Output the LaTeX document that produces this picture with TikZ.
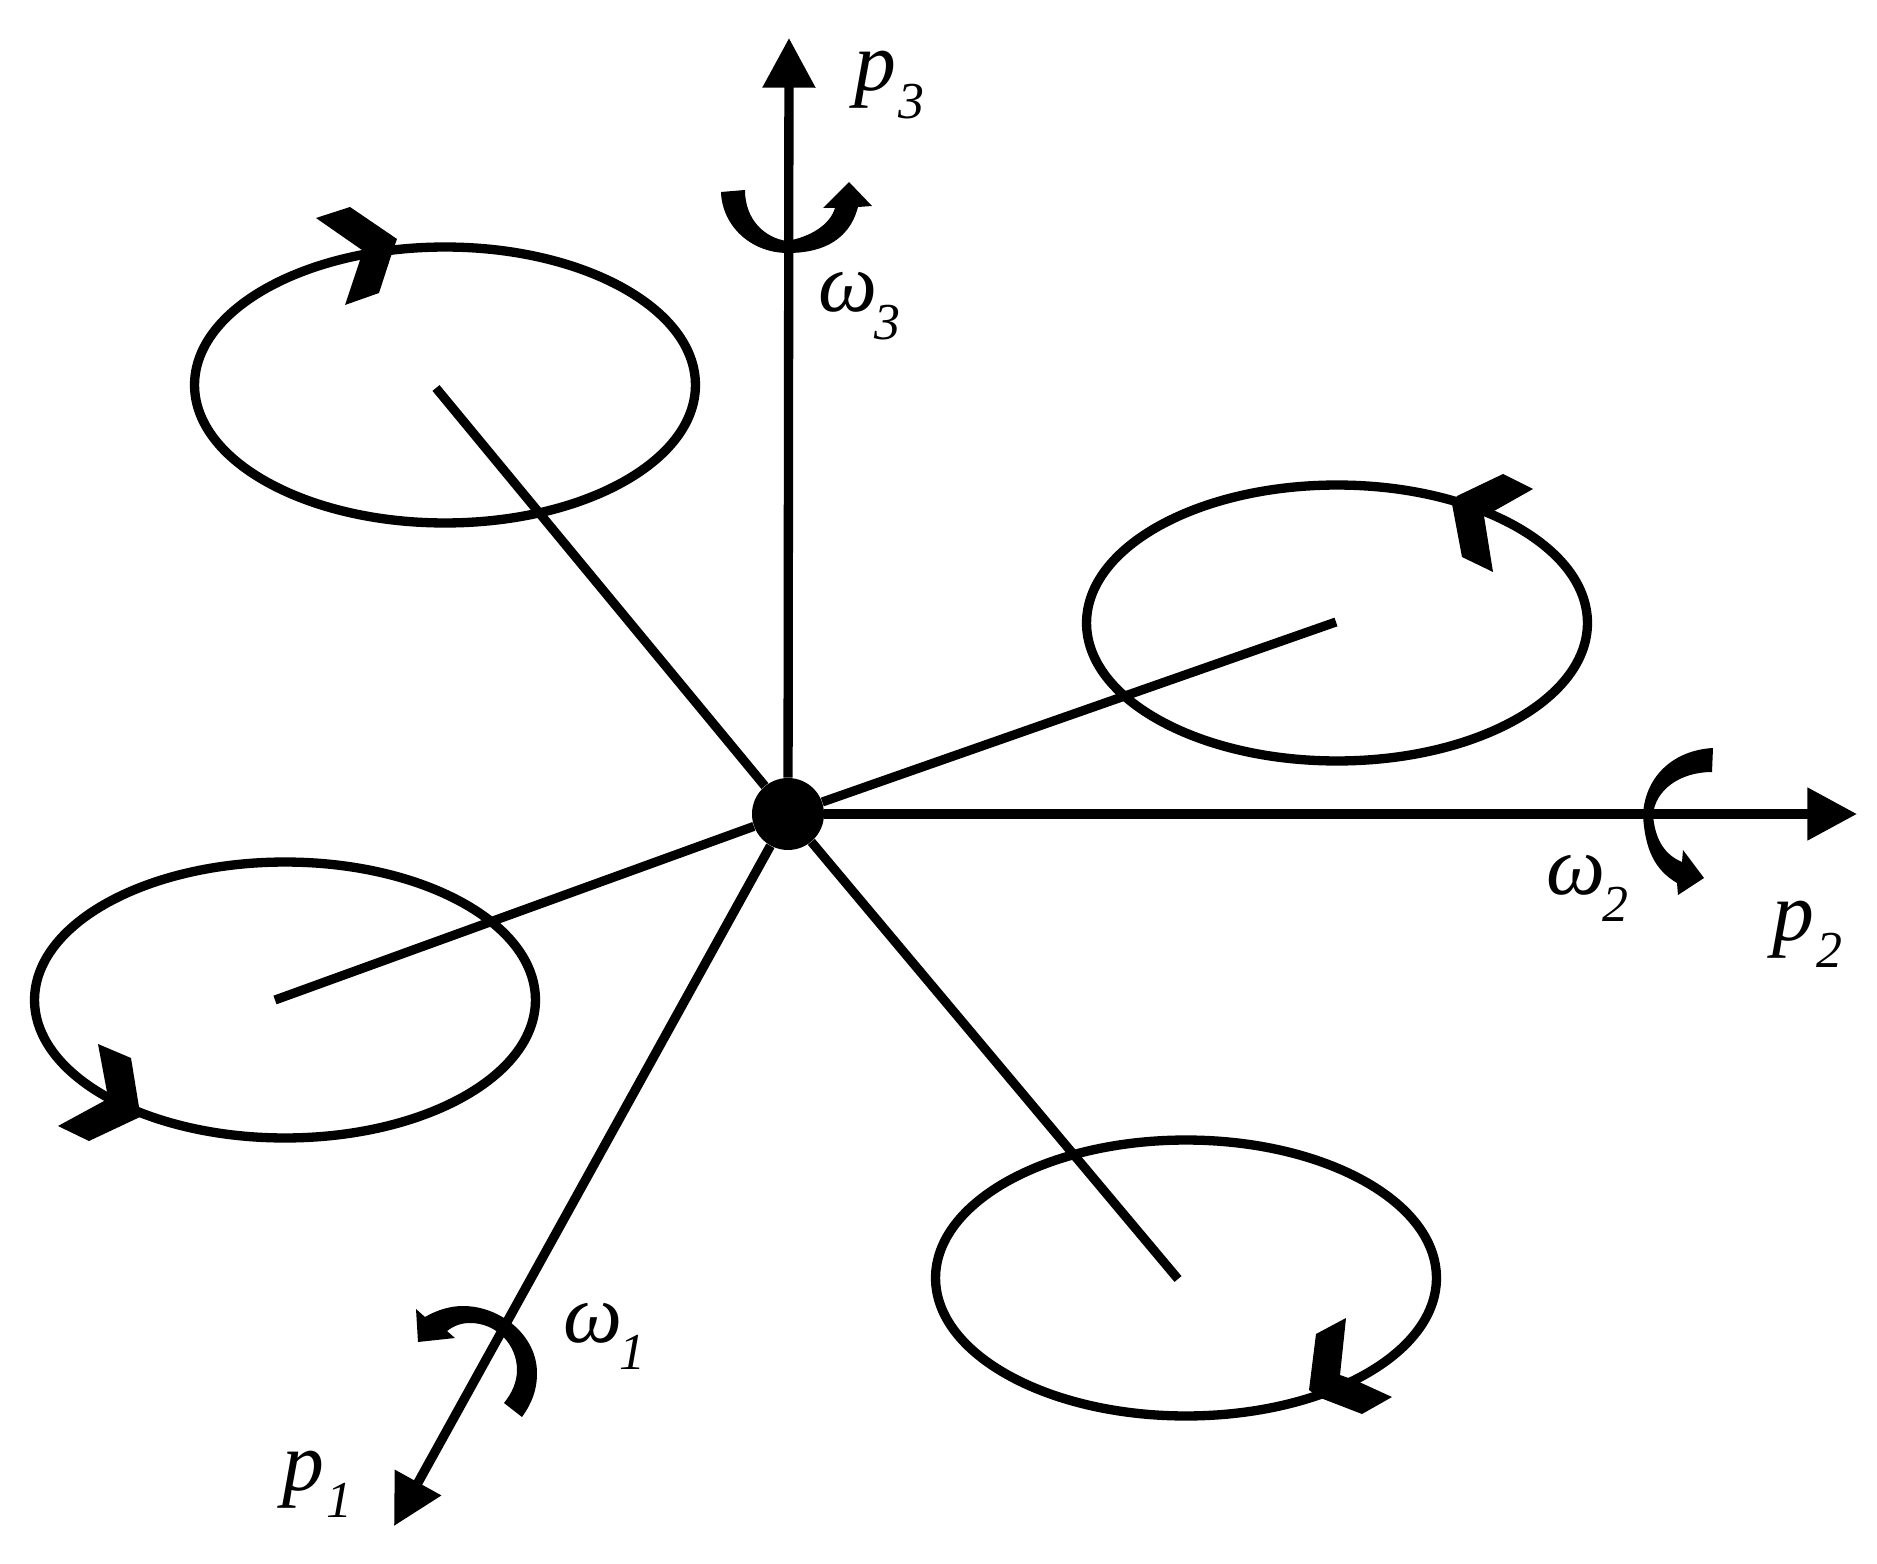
\documentclass[tikz,border=0pt]{standalone}
\usepackage{fontspec}
\setmainfont{Liberation Serif}
\usetikzlibrary{arrows.meta,shapes.geometric}
\newcommand{\lab}[3][1.5pt]{\fontsize{47.6}{50}\selectfont\itshape #2\kern #1\raisebox{-15.5pt}{\fontsize{29.5}{30}\selectfont #3}}
\tikzset{
	rotor/.style={draw, ellipse, line width=5.3pt, minimum width=10.02cm, minimum height=5.52cm, inner sep=0pt},
	axis/.style={line width=5.3pt, -{Triangle[length=28.3pt, width=28.9pt]}},
	spoke/.style={line width=5.2pt},
	barb/.style={fill=black, draw=none},
	lbl/.style={anchor=base west, inner sep=0pt}
}
\begin{document}
\begin{tikzpicture}[x=0.02cm, y=-0.02cm]
	\useasboundingbox (0,0) rectangle (1877,1564);

	\node[rotor] (rotorA) at (445,385) {};
	\node[rotor] (rotorB) at (1337,623) {};
	\node[rotor] (rotorC) at (285,1000) {};
	\node[rotor] (rotorD) at (1186,1278) {};

	\node[circle, fill=black, minimum size=1.44cm, inner sep=0pt] (hub) at (788,814) {};

	\coordinate (endA) at (436,388);
	\coordinate (endB) at (1336,622);
	\coordinate (endC) at (275,1000);
	\coordinate (endD) at (1178,1279);
	\draw[spoke] (hub) -- (endA);
	\draw[spoke] (hub) -- (endB);
	\draw[spoke] (hub) -- (endC);
	\draw[spoke] (hub) -- (endD);

	\coordinate (tip1) at (394,1526);
	\coordinate (tip2) at (1857,814);
	\coordinate (tip3) at (789,38);
	\draw[axis] (hub) -- (tip1);
	\draw[axis] (hub) -- (tip2);
	\draw[axis] (hub) -- (tip3);

	% direction marks on the rotors
	\fill[barb] (316,218) -- (350,207) -- (397,239) -- (392,253) -- (379,293) -- (345,305) -- (360,260) -- (362,250) -- cycle;
	\fill[barb] (1533,489) -- (1503,474) -- (1457,496) -- (1452,504) -- (1462,557) -- (1493,572) -- (1484,516) -- (1494,511) -- cycle;
	\fill[barb] (98,1044) -- (131,1058) -- (139,1107) -- (140,1117) -- (89,1141) -- (58,1126) -- (104,1101) -- (107,1092) -- cycle;
	\fill[barb] (1346,1318) -- (1316,1334) -- (1309,1390) -- (1318,1397) -- (1362,1414) -- (1392,1397) -- (1357,1381) -- (1340,1375) -- cycle;

	% turning arrows on the axes
	\fill[barb] (522,1417) .. controls (532,1403) and (537,1390) .. (537,1373) .. controls (537,1335) and (500,1306) .. (463,1306) .. controls (450,1306) and (437,1310) .. (425,1317) -- (416,1309) -- (418,1342) -- (455,1338) -- (447,1331) .. controls (455,1325) and (462,1323) .. (470,1323) .. controls (497,1323) and (517,1345) .. (517,1370) .. controls (517,1382) and (512,1393) .. (504,1403) -- cycle;
	\fill[barb] (1713,748) .. controls (1675,750) and (1645,775) .. (1643,815) .. controls (1645,850) and (1655,870) .. (1677,883) -- (1678,895) -- (1704,878) -- (1683,850) -- (1682,862) .. controls (1665,855) and (1655,840) .. (1653,815) .. controls (1655,790) and (1680,772) .. (1712,772) -- cycle;
	\fill[barb] (721,192) .. controls (722,225) and (750,253) .. (788,253) .. controls (815,253) and (848,245) .. (858,207) -- (872,206) -- (849,182) -- (823,208) -- (835,208) .. controls (830,225) and (810,237) .. (787,241) .. controls (765,238) and (745,220) .. (745,190) -- cycle;

	\node[lbl] (labP3) at (854,91) {\lab{p}{3}};
	\node[lbl] (labW3) at (818,312) {\lab[-1.5pt]{ω}{3}};
	\node[lbl] (labP2) at (1772,940) {\lab{p}{2}};
	\node[lbl] (labW2) at (1546,894) {\lab[-1.5pt]{ω}{2}};
	\node[lbl] (labP1) at (282,1490) {\lab{p}{1}};
	\node[lbl] (labW1) at (563,1342) {\lab[-1.5pt]{ω}{1}};
\end{tikzpicture}
\end{document}
